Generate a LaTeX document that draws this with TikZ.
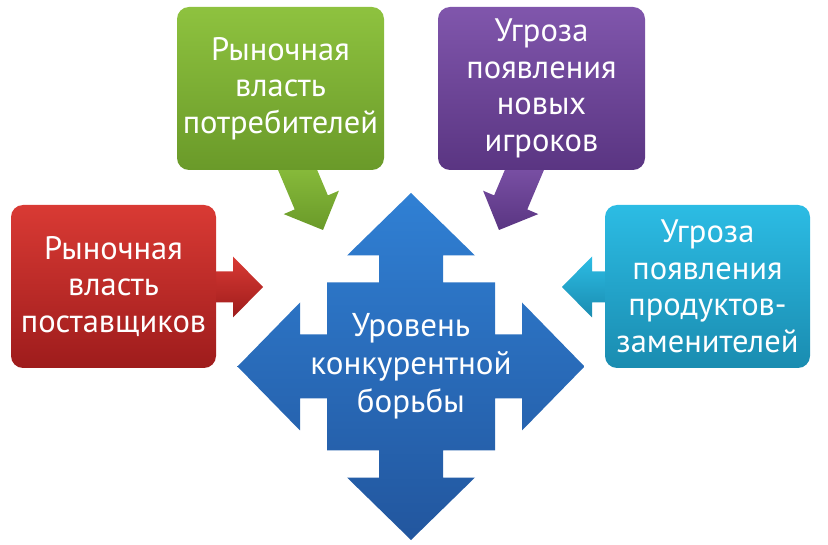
\documentclass[tikz,border=0pt]{standalone}
\usepackage{fontspec}
\setmainfont{PT Sans}
\begin{document}
\begin{tikzpicture}[x=1pt,y=-1pt,
  boxtxt/.style={text=white,align=center,font=\fontsize{32.5}{36.5}\selectfont},
  card/.style={rounded corners=12pt,minimum width=#1,minimum height=163pt,inner sep=0pt,boxtxt},
  redfill/.style={top color=red1,bottom color=red2},
  greenfill/.style={top color=green1,bottom color=green2},
  purplefill/.style={top color=purple1,bottom color=purple2},
  cyanfill/.style={top color=cyan1,bottom color=cyan2},
  bluefill/.style={top color=blue1,bottom color=blue2},
]
\definecolor{red1}{HTML}{D93A34}
\definecolor{red2}{HTML}{9E1C1C}
\definecolor{green1}{HTML}{8EC23F}
\definecolor{green2}{HTML}{6A9A29}
\definecolor{purple1}{HTML}{8056AC}
\definecolor{purple2}{HTML}{5A3582}
\definecolor{cyan1}{HTML}{2CBCE4}
\definecolor{cyan2}{HTML}{1A8CB0}
\definecolor{blue1}{HTML}{3080D4}
\definecolor{blue2}{HTML}{22569E}
\useasboundingbox (0,0) rectangle (828,545);

% central cross
\def\cx{411}\def\cy{366.5}
\path[bluefill]
  (\cx,\cy-173.5) -- (\cx+64,\cy-111) -- (\cx+32,\cy-111) -- (\cx+32,\cy-84)
  -- (\cx+84,\cy-84) -- (\cx+84,\cy-32) -- (\cx+111,\cy-32) -- (\cx+111,\cy-64)
  -- (\cx+173.5,\cy) -- (\cx+111,\cy+64) -- (\cx+111,\cy+32) -- (\cx+84,\cy+32)
  -- (\cx+84,\cy+84) -- (\cx+32,\cy+84) -- (\cx+32,\cy+111) -- (\cx+64,\cy+111)
  -- (\cx,\cy+173.5) -- (\cx-64,\cy+111) -- (\cx-32,\cy+111) -- (\cx-32,\cy+84)
  -- (\cx-84,\cy+84) -- (\cx-84,\cy+32) -- (\cx-111,\cy+32) -- (\cx-111,\cy+64)
  -- (\cx-173.5,\cy) -- (\cx-111,\cy-64) -- (\cx-111,\cy-32) -- (\cx-84,\cy-32)
  -- (\cx-84,\cy-84) -- (\cx-32,\cy-84) -- (\cx-32,\cy-111) -- (\cx-64,\cy-111)
  -- cycle;
\node[text=white,align=center,font=\fontsize{33}{38}\selectfont] (center) at (\cx,\cy) {Уровень\\конкурентной\\борьбы};

% red arrow (right)
\path[redfill] (205,271.5) -- (233,271.5) -- (233,256.5) -- (263,287) -- (233,317.5) -- (233,302.5) -- (205,302.5) -- cycle;
% cyan arrow (left)
\path[cyanfill] (615,271.5) -- (592,271.5) -- (592,256.5) -- (562,287) -- (592,317.5) -- (592,302.5) -- (615,302.5) -- cycle;
% green arrow (down-right)
\path[greenfill] (276.8,167) -- (294.7,209.4) -- (283.7,214.1) -- (323,230) -- (338.9,190.7) -- (327.9,195.4) -- (310,153) -- cycle;
% purple arrow (down-left)
\path[purplefill] (545.2,167) -- (527.3,209.4) -- (538.3,214.1) -- (499,230) -- (483.1,190.7) -- (494.1,195.4) -- (512,153) -- cycle;

% boxes
\node[card=205pt,redfill] (supp) at (113.5,286.5) {Рыночная\\власть\\поставщиков};
\node[card=207pt,greenfill] (cons) at (280.5,88.5) {Рыночная\\власть\\потребителей};
\node[card=207pt,purplefill] (newp) at (541.5,88.5) {Угроза\\появления\\новых\\игроков};
\node[card=205pt,cyanfill] (subst) at (707.5,286.5) {Угроза\\появления\\продуктов-\\заменителей};
\end{tikzpicture}
\end{document}
